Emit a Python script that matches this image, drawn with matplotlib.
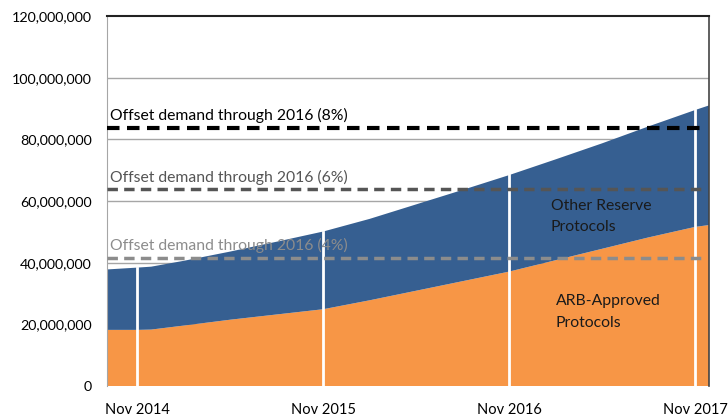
import matplotlib
matplotlib.use("Agg")
import matplotlib.pyplot as plt
import numpy as np

plt.rcParams['font.family'] = ['Lato', 'DejaVu Sans']

# months relative to Nov 2014
months = [-1.95, 0, 0.9, 3, 6, 9, 12, 15, 18, 21, 24, 27, 30, 33, 36, 36.9]
arb = [18.2, 18.2, 18.3, 19.6, 21.5, 23.2, 24.9, 27.8, 30.9, 34.0, 37.1, 40.8, 44.5, 48.2, 51.6, 52.2]
other_total = [37.8, 38.4, 38.7, 40.6, 43.6, 46.8, 50.1, 54.2, 58.9, 63.6, 68.4, 73.5, 78.7, 84.2, 89.5, 91.0]
other = [t - a for t, a in zip(other_total, arb)]
arb = [v * 1e6 for v in arb]
other = [v * 1e6 for v in other]

tick_months = [0, 12, 24, 36]
tick_labels = ["Nov 2014", "Nov 2015", "Nov 2016", "Nov 2017"]

demand_labels = ["Offset demand through 2016 (8%)", "Offset demand through 2016 (6%)", "Offset demand through 2016 (4%)"]
demand_values = [83.8e6, 63.8e6, 41.6e6]
demand_colors = ["#000000", "#555555", "#8c8c8c"]

fig = plt.figure(figsize=(7.28, 4.18), dpi=100)
ax = fig.add_axes([107/728, 1-386/418, (709-107)/728, (386-16)/418])

xmin, xmax = months[0], months[-1]
ax.set_xlim(xmin, xmax)
ax.set_ylim(0, 120e6)

for y in [20e6, 40e6, 60e6, 80e6, 100e6]:
    ax.axhline(y, color="#a6a6a6", lw=1, zorder=0)

ax.stackplot(months, arb, other, colors=["#f79646", "#365f91"], zorder=1, linewidth=0)

tot = np.array(arb) + np.array(other)
for m in tick_months:
    ymax = np.interp(m, months, tot)
    ax.plot([m, m], [0, ymax], color="white", lw=2, zorder=2)

for lab, val, col in zip(demand_labels, demand_values, demand_colors):
    lw = 3 if col == "#000000" else 2.5
    ax.plot([xmin, 36.6], [val, val], color=col, lw=lw, dashes=(3, 1.8), zorder=3)
    ax.text(xmin + 0.2, val + 1.5e6, lab, color=col, fontsize=11.3, va="bottom", ha="left", zorder=4)

ax.text(26.7, 55.0e6, "Other Reserve\nProtocols", color="#1a1a1a", fontsize=11.3, va="center", ha="left", linespacing=1.7)
ax.text(27.0, 24.0e6, "ARB-Approved\nProtocols", color="#1a1a1a", fontsize=11.3, va="center", ha="left", linespacing=1.7)

ax.set_xticks(tick_months)
ax.set_xticklabels(tick_labels, fontsize=10.5)
yt = [0, 20e6, 40e6, 60e6, 80e6, 100e6, 120e6]
ax.set_yticks(yt)
ax.set_yticklabels([f"{int(v):,}" for v in yt], fontsize=10.3)
ax.tick_params(axis="both", length=0)
ax.tick_params(axis="x", pad=12)
ax.tick_params(axis="y", pad=11)

ax.spines["left"].set_color("#a6a6a6")
ax.spines["bottom"].set_visible(False)
ax.spines["top"].set_color("#222222")
ax.spines["top"].set_linewidth(1.5)
ax.spines["right"].set_color("#444444")
ax.spines["right"].set_linewidth(1.2)

fig.savefig("out.png", dpi=100)
